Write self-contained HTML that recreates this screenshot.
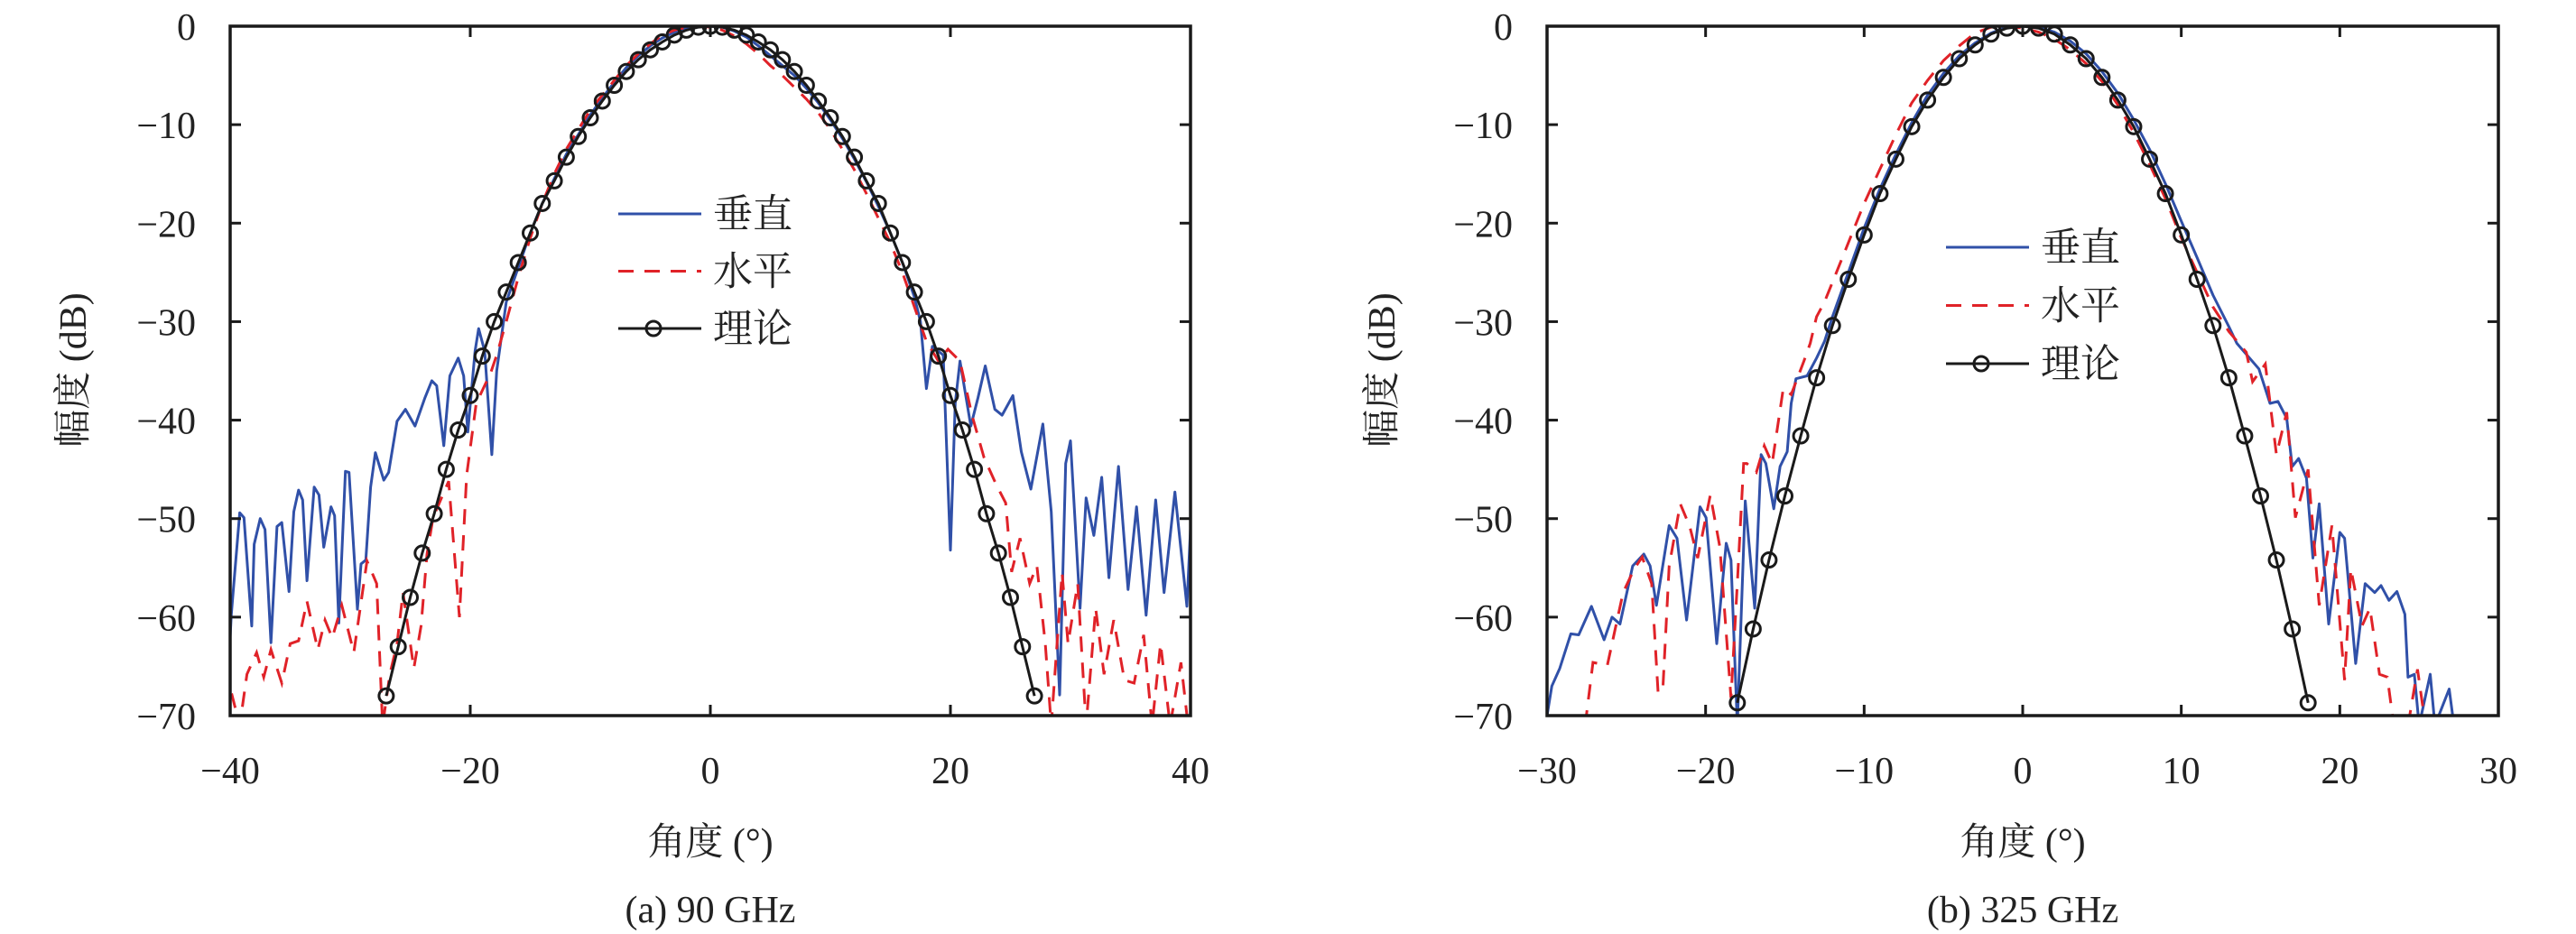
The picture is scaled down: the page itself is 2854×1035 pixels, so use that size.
<!DOCTYPE html>
<html><head><meta charset="utf-8"><style>
html,body{margin:0;padding:0;background:#fff;}
svg{display:block;}
text{font-family:"Liberation Serif","Noto Serif CJK SC",serif;fill:#222;}
</style></head><body>
<svg id="fig" width="2854" height="1035" viewBox="0 0 2854 1035" xmlns="http://www.w3.org/2000/svg"></svg>
<script>
// ===== Data: (a) 90 GHz =====
const aTheoryX = [-27,-26,-25,-24,-23,-22,-21,-20,-19,-18,-17,-16,-15,-14,-13,-12,-11,-10,-9,-8,-7,-6,-5,-4,-3,-2,-1,0,1,2,3,4,5,6,7,8,9,10,11,12,13,14,15,16,17,18,19,20,21,22,23,24,25,26,27];
const aTheoryY = [-68,-63,-58,-53.5,-49.5,-45,-41,-37.5,-33.5,-30,-27,-24,-21,-18,-15.7,-13.3,-11.2,-9.3,-7.6,-6,-4.6,-3.4,-2.4,-1.6,-0.9,-0.4,-0.1,0,-0.1,-0.4,-0.9,-1.6,-2.4,-3.4,-4.6,-6,-7.6,-9.3,-11.2,-13.3,-15.7,-18,-21,-24,-27,-30,-33.5,-37.5,-41,-45,-49.5,-53.5,-58,-63,-68];
const aVertX = [-40,-39.9,-39.2,-38.85,-38.2,-38,-37.5,-37.1,-36.6,-36.1,-35.7,-35.1,-34.7,-34.3,-33.96,-33.6,-33,-32.6,-32.2,-31.6,-31.3,-30.95,-30.4,-30.1,-29.4,-29.1,-28.7,-28.3,-27.9,-27.2,-26.8,-26.1,-25.4,-24.6,-23.8,-23.2,-22.8,-22.2,-21.7,-21,-20.55,-20.2,-19.6,-19.3,-18.8,-18.2,-17.8,-17,-16,-15,-14,-13,-12,-11,-10,-9,-8,-7,-6,-5,-4,-3,-2,-1,0,1,2,3,4,5,6,7,8,9,10,11,12,13,14,15,16,17,17.5,18,18.5,19.4,20,20.4,20.8,21.7,22.3,22.9,23.7,24.3,25.2,25.9,26.7,27.7,28.4,29.1,29.6,30,30.8,31.3,31.95,32.6,33.2,34,34.8,35.5,36.3,37.1,37.8,38.7,39.7,40];
const aVertY = [-62,-59.7,-49.4,-49.9,-60.9,-52.6,-50,-51.1,-62.6,-50.8,-50.4,-57.4,-49.3,-47.1,-48.1,-56.3,-46.8,-47.6,-52.9,-48.8,-49.7,-60.6,-45.2,-45.3,-59.2,-54.6,-54.2,-46.8,-43.3,-46.1,-45.3,-40.1,-38.9,-40.6,-37.8,-36,-36.5,-42.6,-35.5,-33.7,-35.5,-41.2,-33,-30.7,-33,-43.5,-35,-28,-24.5,-21,-18,-15.5,-13,-11,-9,-7.3,-5.7,-4.2,-3,-2,-1.2,-0.6,-0.2,0,0,-0.1,-0.5,-1.1,-2,-3,-4,-5,-6.3,-7.8,-9.5,-11.4,-13.5,-15.8,-18.3,-21,-24,-27.5,-30,-36.8,-32.5,-33.4,-53.2,-38.3,-34,-40.6,-37.7,-34.5,-38.9,-39.5,-37.5,-43.2,-47,-40.4,-49.3,-67.9,-44.4,-42.1,-59.1,-47.9,-51.7,-45.8,-56,-44.7,-57.2,-48.8,-59.8,-48.1,-57.5,-47.3,-58.9,-51];
const aHorX = [-40,-39.85,-39.2,-38.6,-37.8,-37.2,-36.6,-35.7,-35,-34.3,-33.6,-32.7,-32.1,-31.5,-30.7,-29.7,-28.6,-27.8,-27.3,-26.7,-26.1,-25.6,-24.7,-24.1,-23.6,-23.1,-21.8,-20.9,-20.3,-19.5,-18.3,-17.8,-17,-16,-15,-14,-13,-12,-11,-10,-9,-8,-7,-6,-5,-4,-3,-2,-1,0,1,2,3,4,5,6,7,8,9,10,11,12,13,14,15,16,17,18,19,19.8,20.8,21.8,22.8,23.8,24.6,25.1,25.8,26.6,27.2,27.9,28.4,29.3,29.8,30.6,31.3,32.1,32.8,33.6,34.5,35.3,36.1,36.8,37.5,38.3,39.2,39.8];
const aHorY = [-68,-67.9,-71,-65.8,-63.6,-66.1,-63.3,-66.7,-62.7,-62.4,-58.4,-63.3,-60.3,-62.1,-58.8,-63.6,-54.3,-56.6,-71,-65.8,-62.7,-57.5,-65.2,-60.9,-53.6,-49.9,-46.2,-60,-45.6,-38.3,-35.2,-33.4,-30,-25.5,-21.5,-18,-15,-12.5,-10.5,-8.5,-7,-5.5,-4,-2.8,-1.8,-0.9,-0.4,-0.1,0,-0.1,-0.4,-1,-1.8,-2.8,-4,-5,-6.2,-7.4,-8.8,-10.5,-12.5,-14.6,-17,-19.5,-22,-25,-28.5,-32,-34,-32.8,-34,-39.5,-43.8,-46.5,-48.4,-55.4,-52,-56.6,-54.8,-62.7,-71,-55.5,-62.7,-56.6,-71,-59.1,-65.8,-60.3,-66.4,-66.7,-61.8,-71,-62.7,-71,-64.6,-71];
// ===== Data: (b) 325 GHz =====
const bTheoryX = [-18,-17,-16,-15,-14,-13,-12,-11,-10,-9,-8,-7,-6,-5,-4,-3,-2,-1,0,1,2,3,4,5,6,7,8,9,10,11,12,13,14,15,16,17,18];
const bTheoryY = [-68.7,-61.2,-54.2,-47.7,-41.6,-35.7,-30.4,-25.7,-21.2,-17,-13.5,-10.2,-7.5,-5.2,-3.3,-1.9,-0.8,-0.2,0,-0.2,-0.8,-1.9,-3.3,-5.2,-7.5,-10.2,-13.5,-17,-21.2,-25.7,-30.4,-35.7,-41.6,-47.7,-54.2,-61.2,-68.7];
const bVertX = [-30,-29.7,-29.2,-28.5,-28,-27.2,-26.4,-25.9,-25.4,-24.6,-23.9,-23.5,-23.1,-22.3,-21.8,-21.2,-20.35,-19.97,-19.3,-18.7,-18.4,-18,-17.5,-16.9,-16.5,-16.2,-15.7,-15.3,-14.85,-14.6,-14.3,-13.6,-13,-12.5,-12,-11,-10,-9,-8,-7,-6,-5,-4,-3,-2,-1,0,1,2,3,4,5,6,7,8,9,10,11,12,13,13.5,14.9,15.6,16.1,16.65,17,17.4,17.9,18.3,18.7,19.3,20,20.3,21,21.6,22.2,22.6,23.1,23.6,24.1,24.3,24.7,25,25.7,26,26.9,27.2];
const bVertY = [-70,-67,-65.2,-61.7,-61.8,-58.9,-62.3,-60,-60.7,-54.8,-53.6,-54.8,-58.8,-50.7,-52,-60.3,-48.8,-49.9,-62.7,-52.5,-54.2,-71,-48.2,-59.1,-43.5,-44.4,-49,-44.7,-43.2,-38.3,-35.8,-35.5,-33.7,-32,-29.5,-25,-20.5,-16.5,-13,-9.8,-7,-4.8,-3,-1.7,-0.7,-0.1,0,-0.1,-0.6,-1.5,-2.8,-4.6,-6.8,-9.5,-12.5,-16,-19.8,-23.5,-27.3,-30.5,-32.2,-34.8,-38.3,-38.1,-39.8,-44.7,-43.9,-45.9,-54,-48.5,-60.7,-51.4,-52,-64.7,-56.6,-57.5,-56.8,-58.3,-57.4,-59.7,-66.1,-65.8,-71,-65.8,-71,-67.3,-71];
const bHorX = [-27.6,-27.1,-26.2,-25.7,-25.2,-24.5,-24,-23.4,-23,-22.7,-22.3,-21.6,-21,-20.5,-19.7,-19.1,-18.4,-18,-17.6,-17.4,-16.8,-16.3,-15.8,-15.1,-14.6,-13.8,-13.4,-13,-12.5,-12,-11,-10,-9,-8,-7,-6,-5,-4,-3,-2,-1,0,1,2,3,4,5,6,7,8,9,10,11,12,13,14.1,14.5,15.3,16,16.65,17.2,18,18.7,19.5,20.3,20.7,21.4,21.9,22.5,23,23.4,24.3,24.9,25.4];
const bHorY = [-71,-64.6,-64.9,-61.2,-57.5,-55.1,-53.9,-56.6,-67.6,-67.5,-54.8,-48.5,-50.8,-54,-47.6,-52.9,-68.2,-56.6,-44.4,-44.4,-45.3,-42.6,-44.4,-36.8,-37.4,-34,-32.2,-29.5,-28,-26,-22,-18,-14.5,-11,-7.8,-5.5,-3.5,-2,-0.7,-0.1,0,-0.2,-0.6,-1.3,-2.4,-3.8,-5.6,-8,-10.8,-14,-17.5,-21.5,-25,-28.5,-31,-33.1,-36.1,-34.3,-43.5,-39.2,-49.9,-45,-58.8,-50.7,-66.4,-55.1,-60.9,-59.1,-65.8,-66.1,-71,-71,-65.3,-71];

const aXTicks = [-40,-20,0,20,40];
const bXTicks = [-30,-20,-10,0,10,20,30];
const yTicks = [0,-10,-20,-30,-40,-50,-60,-70];

const NS = 'http://www.w3.org/2000/svg';
const svg = document.getElementById('fig');
function mk(tag, attrs, parent){ const e=document.createElementNS(NS,tag); for(const k in attrs) e.setAttribute(k,attrs[k]); (parent||svg).appendChild(e); return e; }

const BLUE='#3050a8', RED='#e02228', BLACK='#1a1a1a';
const TOP=29, BOT=793;

function panel(cfg){
  const g = mk('g',{});
  
  
  const L=cfg.left, R=cfg.right;
  const sx = v => L + (v-cfg.xmin)/(cfg.xmax-cfg.xmin)*(R-L);
  const sy = v => TOP + (0-v)/70*(BOT-TOP);
  const cid = 'clip-'+cfg.id;
  const defs = mk('defs',{},g);
  const cp = mk('clipPath',{id:cid},defs);
  mk('rect',{x:L,y:TOP,width:R-L,height:BOT-TOP},cp);
  const plot = mk('g',{'clip-path':'url(#'+cid+')'},g);
  function path(xs,ys){ return xs.map((x,i)=>(i?'L':'M')+sx(x).toFixed(1)+' '+sy(ys[i]).toFixed(1)).join(' '); }
  const v = mk('path',{d:path(cfg.vx,cfg.vy),fill:'none',stroke:BLUE,'stroke-width':3,'stroke-linejoin':'round'},plot);
  
  
  const h = mk('path',{d:path(cfg.hx,cfg.hy),fill:'none',stroke:RED,'stroke-width':3,'stroke-dasharray':'17 12'},plot);
  
  
  const tx = cfg.tx.slice(), ty = cfg.ty.slice();
  const tp = mk('path',{d:path(tx,ty),fill:'none',stroke:BLACK,'stroke-width':3},plot);
  
  
  tx.forEach((x,i)=>{
    const c = mk('circle',{cx:sx(x),cy:sy(ty[i]),r:8,fill:'none',stroke:BLACK,'stroke-width':3},plot);
    
    
  });
  // frame
  const fr = mk('rect',{x:L,y:TOP,width:R-L,height:BOT-TOP,fill:'none',stroke:BLACK,'stroke-width':3.5},g);
  
  
  // ticks
  cfg.xticks.forEach(t=>{
    const x=sx(t);
    mk('line',{x1:x,y1:BOT,x2:x,y2:BOT-12,stroke:BLACK,'stroke-width':3},g);
    mk('line',{x1:x,y1:TOP,x2:x,y2:TOP+12,stroke:BLACK,'stroke-width':3},g);
    const tl = mk('text',{x:x,y:868,'font-size':42,'text-anchor':'middle'},g);
    tl.textContent = t<0 ? '\u2212'+(-t) : String(t);
    
    
  });
  yTicks.forEach(t=>{
    const y=sy(t);
    mk('line',{x1:L,y1:y,x2:L+12,y2:y,stroke:BLACK,'stroke-width':3},g);
    mk('line',{x1:R,y1:y,x2:R-12,y2:y,stroke:BLACK,'stroke-width':3},g);
    const tl = mk('text',{x:L-38,y:y+15,'font-size':42,'text-anchor':'end'},g);
    tl.textContent = t<0 ? '\u2212'+(-t) : String(t);
    
    
  });
  const yt = mk('text',{x:0,y:0,'font-size':42,'text-anchor':'middle',transform:'translate('+cfg.ytx+',410) rotate(-90)'},g);
  yt.textContent = '幅度 (dB)';
  
  
  const xt = mk('text',{x:(L+R)/2,y:947,'font-size':42,'text-anchor':'middle'},g);
  xt.textContent = '角度 (°)';
  
  
  const cap = mk('text',{x:(L+R)/2,y:1022,'font-size':42,'text-anchor':'middle'},g);
  cap.textContent = cfg.caption;
  
  
  // legend
  const lg = mk('g',{},g);
  
  
  const lx=cfg.legX, ly=cfg.legY, lw=92;
  const items=[['垂直',BLUE,null,false],['水平',RED,'17 12',false],['理论',BLACK,null,true]];
  items.forEach((it,i)=>{
    const y = ly + i*cfg.legDy;
    const e = mk('g',{},lg);
    
    
    const a={x1:lx,y1:y,x2:lx+lw,y2:y,stroke:it[1],'stroke-width':3};
    if(it[2]) a['stroke-dasharray']=it[2];
    mk('line',a,e);
    if(it[3]) mk('circle',{cx:lx+lw/2-7,cy:y,r:8,fill:'none',stroke:BLACK,'stroke-width':3},e);
    const t = mk('text',{x:lx+lw+13,y:y+15,'font-size':44},e);
    t.textContent = it[0];
  });
}

panel({id:'panel-a',left:255,right:1319,xmin:-40,xmax:40,xticks:aXTicks,
  vx:aVertX,vy:aVertY,hx:aHorX,hy:aHorY,tx:aTheoryX,ty:aTheoryY,
  ytx:95,caption:'(a) 90 GHz',legX:685,legY:237,legDy:63.5});
panel({id:'panel-b',left:1714,right:2768,xmin:-30,xmax:30,xticks:bXTicks,
  vx:bVertX,vy:bVertY,hx:bHorX,hy:bHorY,tx:bTheoryX,ty:bTheoryY,
  ytx:1545,caption:'(b) 325 GHz',legX:2156,legY:274,legDy:64.5});
</script>
</body></html>
